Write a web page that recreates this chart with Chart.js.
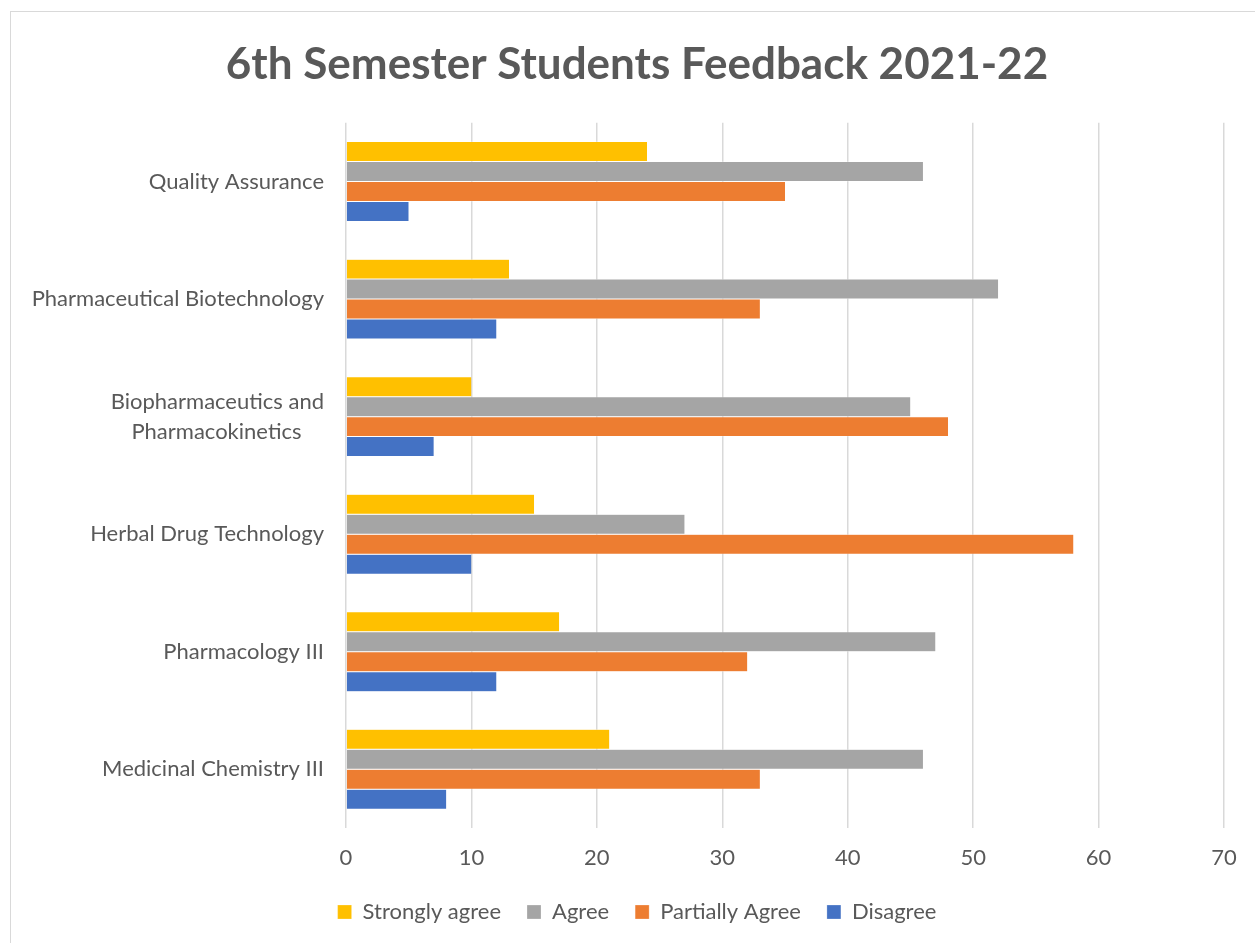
<!DOCTYPE html>
<html>
<head>
<meta charset="utf-8">
<script src="https://cdn.jsdelivr.net/npm/chart.js@4"></script>
<style>
  html, body { margin: 0; padding: 0; background: #fff; overflow: hidden; }
  #frame {
    position: absolute; left: 10px; top: 11px;
    width: 1260px; height: 950px;
    border: 1.5px solid #d9d9d9; box-sizing: border-box;
  }
  #wrap { position: absolute; left: 0; top: 0; width: 1255px; height: 943px; }
</style>
</head>
<body>
<div id="frame"></div>
<div id="wrap"><canvas id="chart"></canvas></div>
<script>
// subjects, top to bottom
const subjects = [
  'Quality Assurance',
  'Pharmaceutical Biotechnology',
  ['Biopharmaceutics and', 'Pharmacokinetics    '],
  'Herbal Drug Technology',
  'Pharmacology III',
  'Medicinal Chemistry III'
];

const stronglyAgree = [24, 13, 10, 15, 17, 21];
const agree = [46, 52, 45, 27, 47, 46];
const partiallyAgree = [35, 33, 48, 58, 32, 33];
const disagree = [5, 12, 7, 10, 12, 8];

const xTicks = { min: 0, max: 70, step: 10 };

const textColor = '#595959';
const fontFamily = 'Lato, "Open Sans", sans-serif';

// title and legend are centred on the whole chart box in the original,
// so the axis boxes are squeezed; let their labels draw past them
const labelRoom = {
  id: 'labelRoom',
  afterLayout: chart => {
    chart.scales.y.left = 0;
    chart.scales.x.bottom = chart.height;
  }
};

new Chart('chart', {
  type: 'bar',
  data: {
    labels: subjects,
    datasets: [
      { label: 'Strongly agree', data: stronglyAgree, backgroundColor: '#FFC000' },
      { label: 'Agree', data: agree, backgroundColor: '#A5A5A5' },
      { label: 'Partially Agree', data: partiallyAgree, backgroundColor: '#ED7D31' },
      { label: 'Disagree', data: disagree, backgroundColor: '#4472C4' }
    ]
  },
  plugins: [labelRoom],
  options: {
    indexAxis: 'y',
    responsive: true,
    maintainAspectRatio: false,
    animation: false,
    datasets: {
      bar: {
        categoryPercentage: 0.68,
        barPercentage: 1,
        borderColor: '#ffffff',
        borderWidth: { top: 0.5, bottom: 0.5, left: 0, right: 0 }
      }
    },
    layout: {
      padding: { top: 22, right: 31, bottom: 10, left: 50 }
    },
    plugins: {
      title: {
        display: true,
        text: '6th Semester Students Feedback 2021-22',
        color: textColor,
        font: { family: fontFamily, size: 44, weight: 'bold' },
        padding: { top: 16, bottom: 32 }
      },
      legend: {
        position: 'bottom',
        labels: {
          color: textColor,
          font: { family: fontFamily, size: 22 },
          boxWidth: 14,
          boxHeight: 14,
          padding: 26
        }
      },
      tooltip: { enabled: false }
    },
    scales: {
      x: {
        min: xTicks.min,
        max: xTicks.max,
        ticks: {
          stepSize: xTicks.step,
          color: textColor,
          font: { family: fontFamily, size: 22, lineHeight: 1.1 },
          padding: 18
        },
        grid: { color: '#d9d9d9', lineWidth: 1.5, drawTicks: false },
        border: { display: false },
        afterFit: scale => { scale.height = 47; }
      },
      y: {
        ticks: {
          color: textColor,
          font: { family: fontFamily, size: 22, lineHeight: 1.36 },
          padding: 22
        },
        grid: { display: false, drawTicks: false },
        border: { display: false },
        afterFit: scale => { scale.width = 296; }
      }
    }
  }
});
</script>
</body>
</html>
